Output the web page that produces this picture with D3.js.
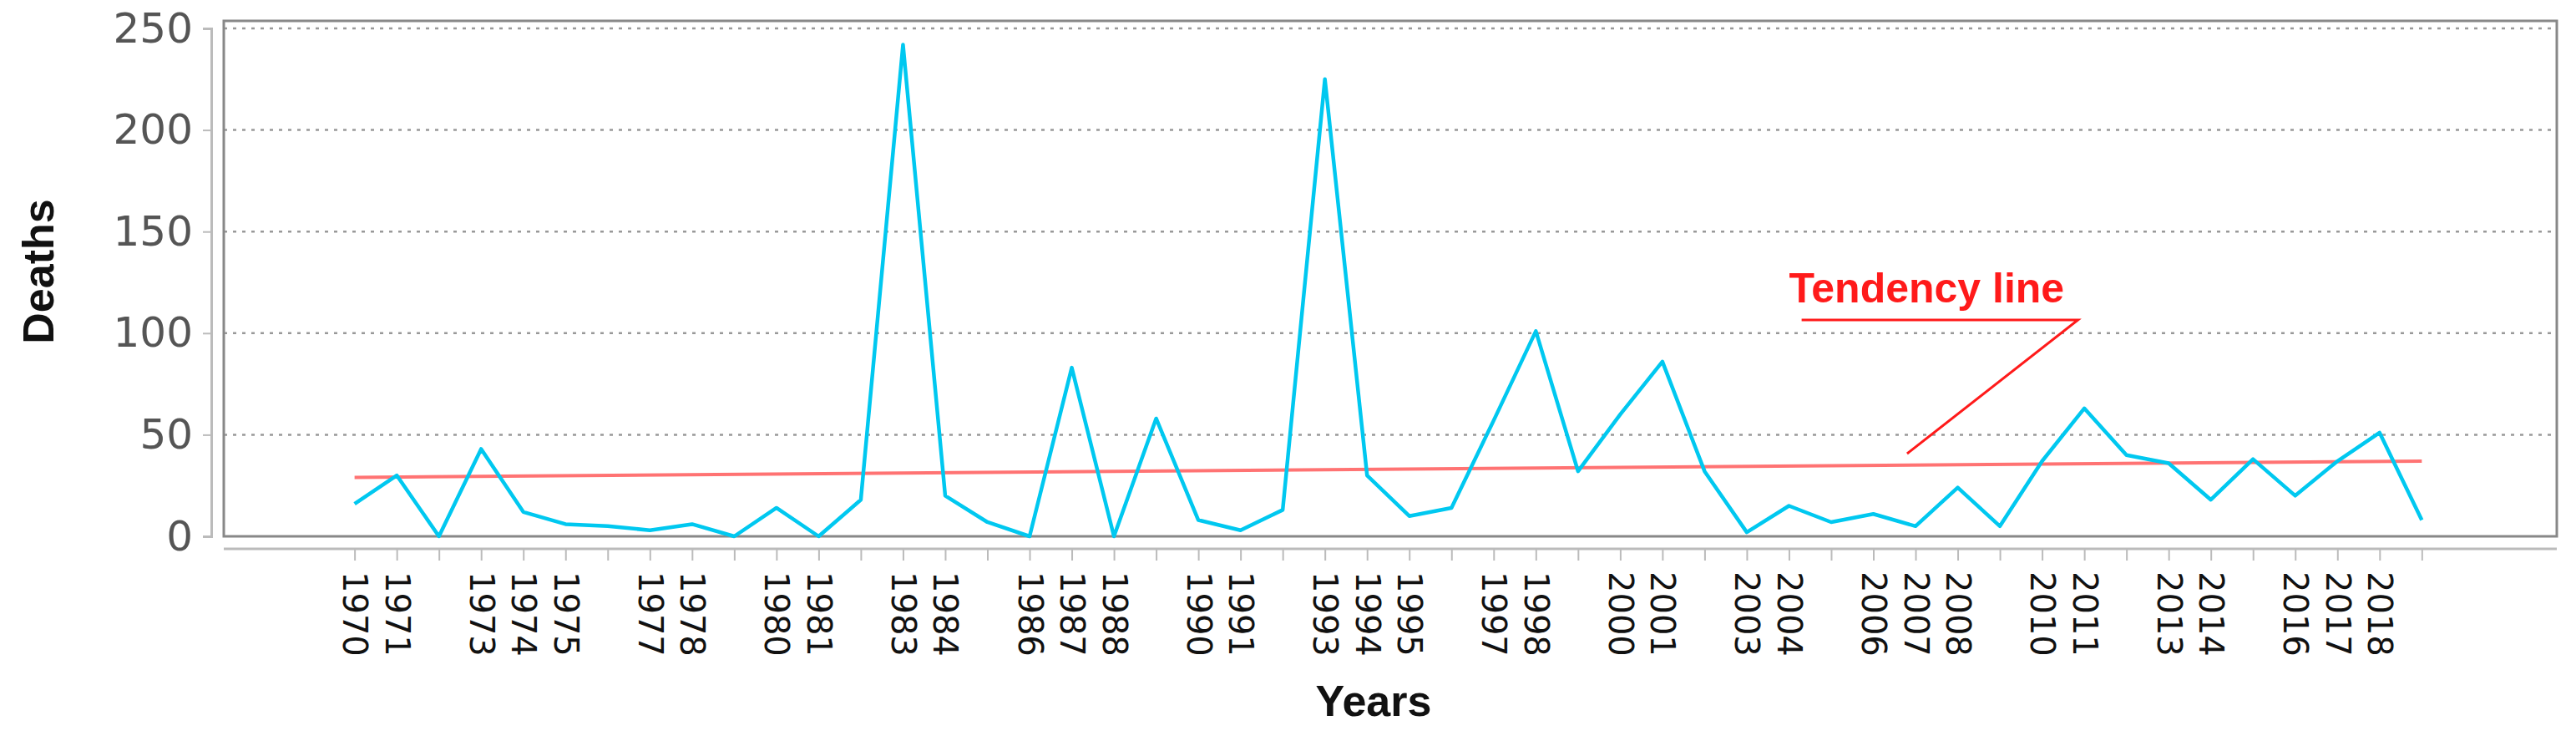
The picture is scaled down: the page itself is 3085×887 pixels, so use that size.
<!DOCTYPE html>
<html><head><meta charset="utf-8">
<script src="https://cdn.jsdelivr.net/npm/d3@7"></script>
<style>body{margin:0;background:#fff}</style>
</head><body><div id="chart"></div>
<script>
const years = d3.range(1970, 2020);
const deaths = [16,30,0,43,12,6,5,3,6,0,14,0,18,242,20,7,0,83,0,58,8,3,13,225,30,10,14,57,101,32,60,86,32,2,15,7,11,5,24,5,37,63,40,36,18,38,20,37,51,8];
const labelYears = [1970,1971,1973,1974,1975,1977,1978,1980,1981,1983,1984,1986,1987,1988,1990,1991,1993,1994,1995,1997,1998,2000,2001,2003,2004,2006,2007,2008,2010,2011,2013,2014,2016,2017,2018];
const trend = [[1970, 29], [2019, 37]];
const yTicks = [0, 50, 100, 150, 200, 250];
// annotation anchor points in data units
const note = {text: "Tendency line", textAt: [2004.0, 115], under: [[2004.3, 106.5], [2010.85, 106.5]], pointer: [2006.8, 40.7]};

const width = 3085, height = 887;
const plotLeft = 268, plotRight = 3062, plotTop = 25, plotBottom = 642;

const svg = d3.select("#chart").append("svg")
  .attr("width", width).attr("height", height)
  .style("font-family", "DejaVu Sans");

const x = d3.scaleLinear().domain([1966.9, 2022.2]).range([plotLeft, plotRight]);
const y = d3.scaleLinear().domain([0, 250]).range([plotBottom, 34]);

// grid
svg.append("g").selectAll("line")
  .data(yTicks.slice(1))
  .join("line")
    .attr("x1", plotLeft).attr("x2", plotRight - 6)
    .attr("y1", d => y(d)).attr("y2", d => y(d))
    .attr("stroke", "#999").attr("stroke-width", 2.5)
    .attr("stroke-dasharray", "4,7");

// plot frame
svg.append("rect")
  .attr("x", plotLeft).attr("y", plotTop)
  .attr("width", plotRight - plotLeft).attr("height", plotBottom - plotTop)
  .attr("fill", "none").attr("stroke", "#888").attr("stroke-width", 3);

// y axis (detached)
const yAxis = svg.append("g")
  .attr("transform", "translate(253,0)")
  .call(d3.axisLeft(y).tickValues(yTicks).tickSize(10).tickPadding(12));
yAxis.select(".domain").attr("stroke", "#bbb").attr("stroke-width", 3);
yAxis.selectAll(".tick line").attr("stroke", "#bbb").attr("stroke-width", 2);
yAxis.selectAll("text").attr("font-size", 50).attr("fill", "#555").attr("font-family", "DejaVu Sans");

// x axis (detached)
const xAxis = svg.append("g")
  .attr("transform", "translate(0,657)")
  .call(d3.axisBottom(x).tickValues(years).tickSize(14)
    .tickFormat(d => labelYears.includes(d) ? d : ""));
xAxis.select(".domain").attr("d", `M${plotLeft},0H${plotRight}`).attr("stroke", "#bbb").attr("stroke-width", 3);
xAxis.selectAll(".tick line").attr("stroke", "#bbb").attr("stroke-width", 2);
xAxis.selectAll("text")
  .attr("font-size", 40).attr("fill", "#111").attr("font-family", "DejaVu Sans")
  .attr("transform", "rotate(90)")
  .attr("text-anchor", "start")
  .attr("x", 27).attr("y", 0).attr("dy", "0.35em");

// trend line
svg.append("path")
  .datum(trend)
  .attr("d", d3.line().x(d => x(d[0])).y(d => y(d[1])))
  .attr("stroke", "#ff5a5a").attr("stroke-opacity", 0.85)
  .attr("stroke-width", 4).attr("fill", "none");

// deaths line
svg.append("path")
  .datum(years.map((yr, i) => [yr, deaths[i]]))
  .attr("d", d3.line().x(d => x(d[0])).y(d => y(d[1])))
  .attr("stroke", "#00c8f0").attr("stroke-width", 4.5)
  .attr("stroke-linejoin", "round").attr("fill", "none");

// annotation
svg.append("text")
  .attr("x", x(note.textAt[0])).attr("y", y(note.textAt[1]))
  .attr("font-family", "Liberation Sans").attr("font-weight", "bold")
  .attr("font-size", 50).attr("fill", "#ff1a1a")
  .text(note.text);
svg.append("path")
  .attr("d", d3.line()([
    [x(note.under[0][0]), y(note.under[0][1])],
    [x(note.under[1][0]), y(note.under[1][1])],
    [x(note.pointer[0]), y(note.pointer[1])]
  ]))
  .attr("stroke", "#ff1a1a").attr("stroke-width", 3).attr("fill", "none");

// axis titles
svg.append("text")
  .attr("transform", "translate(64,325) rotate(-90)")
  .attr("text-anchor", "middle")
  .attr("font-family", "Liberation Sans").attr("font-weight", "bold")
  .attr("font-size", 52).attr("fill", "#111")
  .text("Deaths");
svg.append("text")
  .attr("x", 1645).attr("y", 857)
  .attr("text-anchor", "middle")
  .attr("font-family", "Liberation Sans").attr("font-weight", "bold")
  .attr("font-size", 52).attr("fill", "#111")
  .text("Years");
</script></body></html>
